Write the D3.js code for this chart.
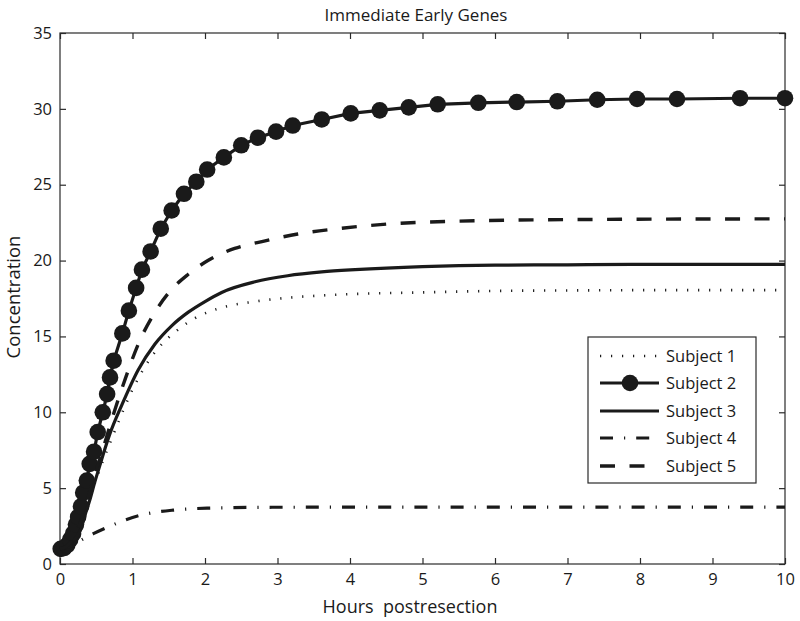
<!DOCTYPE html>
<html>
<head>
<meta charset="utf-8">
<script src="https://cdn.jsdelivr.net/npm/d3@7"></script>
<style>
  body { margin: 0; background: #fff; }
  text { font-family: "Open Sans", "DejaVu Sans", sans-serif; fill: #1a1a1a; }
</style>
</head>
<body>
<svg id="chart" width="800" height="621"></svg>
<script>
const title = "Immediate Early Genes";
const xLabel = "Hours  postresection";
const yLabel = "Concentration";
const xTicks = [0,1,2,3,4,5,6,7,8,9,10];
const yTicks = [0,5,10,15,20,25,30,35];
const seriesNames = ["Subject 1","Subject 2","Subject 3","Subject 4","Subject 5"];

// Subject 1 (dotted)
const subject1 = [[0,1.0],[0.1,1.15],[0.2,1.7],[0.3,2.9],[0.4,4.3],[0.5,5.6],[0.6,6.9],[0.7,8.1],[0.8,9.3],[0.99,11.4],[1.17,13.0],[1.35,14.2],[1.59,15.3],[1.86,16.2],[2.23,16.9],[2.69,17.3],[3.14,17.55],[3.61,17.7],[4.07,17.8],[5,17.9],[6,18.0],[7,18.03],[8,18.05],[10,18.05]];
// Subject 2 (solid with markers)
const subject2 = [[0.01,1.0],[0.055,1.05],[0.10,1.25],[0.14,1.6],[0.18,2.0],[0.22,2.6],[0.25,3.1],[0.29,3.8],[0.32,4.7],[0.37,5.5],[0.41,6.6],[0.47,7.4],[0.52,8.7],[0.59,10.0],[0.65,11.2],[0.69,12.3],[0.74,13.4],[0.86,15.2],[0.95,16.7],[1.05,18.2],[1.13,19.4],[1.25,20.6],[1.39,22.1],[1.54,23.3],[1.71,24.4],[1.88,25.2],[2.03,26.0],[2.26,26.8],[2.50,27.6],[2.73,28.1],[2.98,28.5],[3.21,28.9],[3.61,29.3],[4.01,29.7],[4.41,29.9],[4.81,30.1],[5.21,30.3],[5.77,30.4],[6.30,30.45],[6.86,30.5],[7.41,30.6],[7.96,30.65],[8.51,30.65],[9.38,30.7],[10,30.7]];
// Subject 3 (solid)
const subject3 = [[0,1.0],[0.1,1.15],[0.2,1.6],[0.28,2.2],[0.35,3.3],[0.41,4.2],[0.48,5.4],[0.55,6.5],[0.62,7.6],[0.69,8.6],[0.855,10.5],[1.08,12.8],[1.31,14.5],[1.54,15.7],[1.77,16.6],[2.0,17.3],[2.23,17.9],[2.69,18.6],[3.14,19.0],[3.61,19.25],[4.07,19.4],[5,19.6],[6,19.7],[7,19.72],[8,19.75],[10,19.75]];
// Subject 4 (dash-dot)
const subject4 = [[0,1.0],[0.1,1.1],[0.18,1.25],[0.3,1.6],[0.46,2.0],[0.69,2.5],[0.9,2.9],[1.1,3.2],[1.3,3.4],[1.56,3.55],[2.03,3.68],[3,3.74],[5,3.75],[10,3.75]];
// Subject 5 (dashed)
const subject5 = [[0,1.0],[0.1,1.2],[0.2,1.8],[0.3,3.0],[0.4,4.6],[0.5,6.2],[0.6,7.7],[0.72,9.6],[0.9,12.2],[1.08,14.5],[1.31,16.6],[1.54,18.1],[1.77,19.1],[2.04,20.0],[2.41,20.8],[2.83,21.3],[3.28,21.75],[3.83,22.1],[4.5,22.4],[5.5,22.6],[7,22.7],[10,22.75]];

const seriesData = [subject1, subject2, subject3, subject4, subject5];

const margin = {left: 60, top: 33, right: 15, bottom: 57};
const W = 800, H = 621;
const svg = d3.select("#chart");
const x = d3.scaleLinear().domain([0,10]).range([margin.left, W - margin.right]);
const y = d3.scaleLinear().domain([0,35]).range([H - margin.bottom, margin.top]);

const ink = "#1a1a1a";
const styles = [
  {width: 2.6, dash: "1.2,9.8", marker: false},
  {width: 3.2, dash: null, marker: true},
  {width: 3.2, dash: null, marker: false},
  {width: 3.2, dash: "13,11,1.2,11", marker: false},
  {width: 3.4, dash: "15,14.5", marker: false}
];

const line = d3.line().x(d => x(d[0])).y(d => y(d[1])).curve(d3.curveMonotoneX);
const lineLin = d3.line().x(d => x(d[0])).y(d => y(d[1]));

// Frame
svg.append("rect").attr("x", x(0)).attr("y", y(35)).attr("width", x(10)-x(0)).attr("height", y(0)-y(35))
  .attr("fill", "none").attr("stroke", "#2a2a2a").attr("stroke-width", 1.2);

// Axes
const axB = svg.append("g").attr("transform", `translate(0,${y(0)})`)
  .call(d3.axisBottom(x).tickValues(xTicks).tickFormat(d3.format("d")).tickSize(-6).tickPadding(9));
const axL = svg.append("g").attr("transform", `translate(${x(0)},0)`)
  .call(d3.axisLeft(y).tickValues(yTicks).tickFormat(d3.format("d")).tickSize(-6).tickPadding(8));
const axT = svg.append("g").attr("transform", `translate(0,${y(35)})`)
  .call(d3.axisTop(x).tickValues(xTicks).tickFormat("").tickSize(-6));
const axR = svg.append("g").attr("transform", `translate(${x(10)},0)`)
  .call(d3.axisRight(y).tickValues(yTicks).tickFormat("").tickSize(-6));
[axB, axL, axT, axR].forEach(g => {
  g.select(".domain").remove();
  g.selectAll(".tick line").attr("stroke", "#2a2a2a").attr("stroke-width", 1.2);
  g.selectAll(".tick text").style("font-family", "'Open Sans', sans-serif").style("font-size", "16.5px").attr("fill", ink);
});
axB.selectAll(".tick text").attr("dy", "0.71em");

// Series
seriesData.forEach((data, i) => {
  const s = styles[i];
  svg.append("path").datum(data)
    .attr("d", s.marker ? lineLin : line)
    .attr("fill", "none").attr("stroke", ink).attr("stroke-width", s.width)
    .attr("stroke-dasharray", s.dash).attr("stroke-linejoin", "round");
  if (s.marker) {
    svg.append("g").selectAll("circle").data(data).join("circle")
      .attr("cx", d => x(d[0])).attr("cy", d => y(d[1])).attr("r", 8.3)
      .attr("fill", ink);
  }
});

// Title and labels
svg.append("text").attr("x", 416).attr("y", 21).attr("text-anchor", "middle")
  .style("font-size", "17px").text(title);
svg.append("text").attr("x", 410).attr("y", 613).attr("text-anchor", "middle")
  .style("font-size", "18px").attr("xml:space", "preserve").text(xLabel);
svg.append("text").attr("transform", `translate(20,297) rotate(-90)`).attr("text-anchor", "middle")
  .style("font-size", "18.5px").text(yLabel);

// Legend
const lg = svg.append("g");
lg.append("rect").attr("x", 588).attr("y", 337).attr("width", 168).attr("height", 146)
  .attr("fill", "#fff").attr("stroke", "#2a2a2a").attr("stroke-width", 1.2);
const rowY = [356, 383, 411, 438, 466];
seriesNames.forEach((name, i) => {
  const s = styles[i];
  const yy = rowY[i];
  lg.append("line").attr("x1", 600).attr("x2", 659).attr("y1", yy).attr("y2", yy)
    .attr("stroke", ink).attr("stroke-width", s.width).attr("stroke-dasharray", s.dash);
  if (s.marker) lg.append("circle").attr("cx", 630).attr("cy", yy).attr("r", 8.3).attr("fill", ink);
  lg.append("text").attr("x", 666).attr("y", yy).attr("dy", "0.35em")
    .style("font-size", "16.5px").text(name);
});
</script>
</body>
</html>
